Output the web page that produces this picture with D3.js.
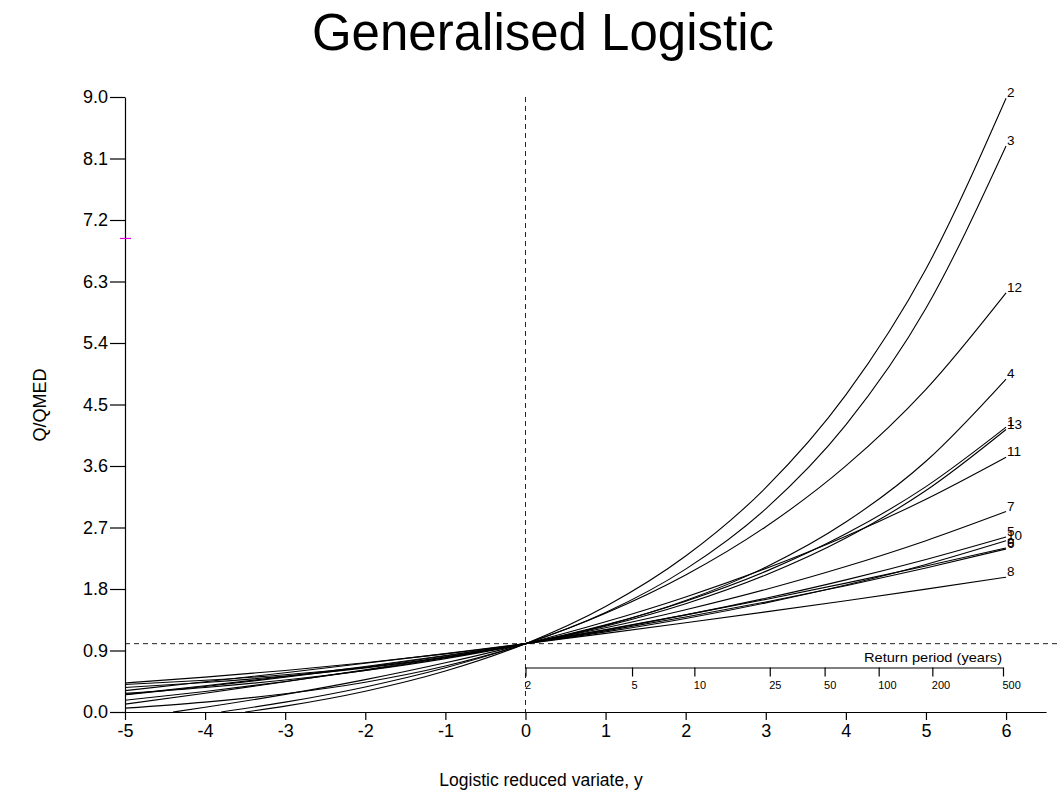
<!DOCTYPE html>
<html>
<head>
<meta charset="utf-8">
<script src="https://cdn.jsdelivr.net/npm/d3@7"></script>
<style>
  body { margin: 0; background: #fff; }
  svg { display: block; font-family: "Liberation Sans", Arial, sans-serif; }
  .curve { fill: none; stroke: #000; stroke-width: 1.1; }
  .guide { stroke: #222; stroke-width: 1; stroke-dasharray: 5,4; }
</style>
</head>
<body>
<svg id="chart" width="1060" height="812"></svg>
<script>
/* Generalised Logistic growth curves, Q/QMED against logistic reduced variate. */

// reduced variate positions where each curve was read
const xs = [-5, -4, -3, -2, -1, 0, 1, 2, 3, 4, 5, 6];

// Q/QMED at xs (null = below the axis)
const q2  = [null, null, 0.086, 0.304, 0.599, 1, 1.544, 2.282, 3.283, 4.640, 6.483, 8.982];
const q3  = [0.057, 0.145, 0.267, 0.436, 0.672, 1, 1.456, 2.091, 2.973, 4.201, 5.908, 8.283];
const q12 = [null, null, 0.144, 0.367, 0.647, 1, 1.445, 2.005, 2.711, 3.601, 4.722, 6.134];
const q4  = [0.404, 0.464, 0.545, 0.654, 0.801, 1, 1.268, 1.631, 2.120, 2.780, 3.670, 4.873];
const q13 = [0.358, 0.431, 0.525, 0.646, 0.801, 1, 1.256, 1.584, 2.005, 2.546, 3.241, 4.134];
const q1  = [0.272, 0.359, 0.469, 0.607, 0.781, 1, 1.275, 1.622, 2.058, 2.607, 3.298, 4.168];
const q11 = [null, 0.069, 0.258, 0.474, 0.720, 1, 1.320, 1.684, 2.100, 2.573, 3.113, 3.728];
const q7  = [0.173, 0.301, 0.446, 0.609, 0.793, 1, 1.234, 1.497, 1.794, 2.129, 2.507, 2.933];
const q5  = [0.252, 0.374, 0.508, 0.656, 0.819, 1, 1.200, 1.421, 1.665, 1.934, 2.233, 2.562];
const q10 = [0.425, 0.510, 0.608, 0.721, 0.851, 1, 1.172, 1.369, 1.597, 1.858, 2.159, 2.505];
const q9  = [0.115, 0.275, 0.443, 0.619, 0.805, 1, 1.205, 1.421, 1.647, 1.886, 2.136, 2.400];
const q6  = [0.258, 0.384, 0.520, 0.667, 0.827, 1, 1.187, 1.390, 1.610, 1.848, 2.107, 2.386];
const q8  = [0.313, 0.442, 0.575, 0.713, 0.854, 1, 1.150, 1.305, 1.465, 1.629, 1.798, 1.973];

const curveNames  = ["2", "3", "12", "4", "13", "1", "11", "7", "5", "10", "9", "6", "8"];
const curveValues = [q2, q3, q12, q4, q13, q1, q11, q7, q5, q10, q9, q6, q8];
// where a curve meets Q/QMED = 0 on the left (null if it stays above)
const zeroAt = [-3.5, null, -3.8, null, null, null, -4.4, null, null, null, null, null, null];

const xTicks = [-5, -4, -3, -2, -1, 0, 1, 2, 3, 4, 5, 6];
const yTicks = [0.0, 0.9, 1.8, 2.7, 3.6, 4.5, 5.4, 6.3, 7.2, 8.1, 9.0];
const returnPeriods = [2, 5, 10, 25, 50, 100, 200, 500];
const markerValue = 6.93;

const svg = d3.select("#chart");

const x = d3.scaleLinear().domain([-5, 6.5]).range([125, 1046.1]);
const y = d3.scaleLinear().domain([0, 9]).range([712, 97]);
// return period axis: position follows ln(T - 1)
const rp = d3.scaleLog().domain([1, 499]).range([x(0), 1003]);

svg.append("rect").attr("width", 1060).attr("height", 812).attr("fill", "#fff");

// title
svg.append("text")
  .attr("x", 543).attr("y", 50)
  .attr("text-anchor", "middle")
  .attr("font-size", 51)
  .text("Generalised Logistic");

// guide lines through QMED
svg.append("line").attr("class", "guide")
  .attr("x1", x(-5)).attr("x2", 1060)
  .attr("y1", y(1)).attr("y2", y(1));
svg.append("line").attr("class", "guide")
  .attr("x1", x(0)).attr("x2", x(0))
  .attr("y1", y(9)).attr("y2", y(0));

// axes
const gx = svg.append("g")
  .attr("transform", `translate(0,${y(0)})`)
  .call(d3.axisBottom(x).tickValues(xTicks).tickFormat(d => String(d)).tickSize(8).tickSizeOuter(0).tickPadding(4));
const gy = svg.append("g")
  .attr("transform", `translate(${x(-5)},0)`)
  .call(d3.axisLeft(y).tickValues(yTicks).tickFormat(d3.format(".1f")).tickSize(15).tickSizeOuter(0).tickPadding(2));
[gx, gy].forEach(g => {
  g.attr("font-family", null).attr("font-size", 18);
  g.selectAll("path, line").attr("stroke", "#000").attr("stroke-width", 1.2);
  g.selectAll("text").attr("fill", "#000");
});

// return period axis
const grp = svg.append("g")
  .attr("transform", "translate(0,667.5)")
  .call(d3.axisBottom(rp)
    .tickValues(returnPeriods.map(t => t - 1))
    .tickFormat(d => String(d + 1))
    .tickSize(9).tickSizeOuter(0).tickPadding(5));
grp.attr("font-family", null).attr("font-size", 11);
grp.selectAll("path, line").attr("stroke", "#000").attr("stroke-width", 1.2);
grp.selectAll("text").attr("fill", "#000").attr("text-anchor", "start").attr("x", -1);

svg.append("text")
  .attr("x", 1002).attr("y", 662)
  .attr("text-anchor", "end")
  .attr("font-size", 13)
  .attr("textLength", 138).attr("lengthAdjust", "spacingAndGlyphs")
  .text("Return period (years)");

// axis titles
svg.append("text")
  .attr("transform", "translate(46,405) rotate(-90)")
  .attr("text-anchor", "middle")
  .attr("font-size", 18)
  .text("Q/QMED");
svg.append("text")
  .attr("x", 541).attr("y", 786)
  .attr("text-anchor", "middle")
  .attr("font-size", 17.5)
  .text("Logistic reduced variate, y");

// small magenta marker on the Q/QMED axis
svg.append("line")
  .attr("x1", x(-5) - 5).attr("x2", x(-5) + 6)
  .attr("y1", y(markerValue)).attr("y2", y(markerValue))
  .attr("stroke", "#e000e0").attr("stroke-width", 1.2);

// curves
const line = d3.line()
  .x(d => x(d[0]))
  .y(d => y(d[1]))
  .curve(d3.curveMonotoneX);

const series = curveNames.map((name, i) => {
  const pts = [];
  if (zeroAt[i] !== null) pts.push([zeroAt[i], 0]);
  xs.forEach((xv, j) => {
    const v = curveValues[i][j];
    if (v !== null) pts.push([xv, v]);
  });
  return { name, pts };
});

svg.append("g")
  .selectAll("path")
  .data(series)
  .join("path")
  .attr("class", "curve")
  .attr("d", d => line(d.pts));

svg.append("g")
  .attr("font-size", 13.5)
  .selectAll("text")
  .data(series)
  .join("text")
  .attr("x", d => x(d.pts[d.pts.length - 1][0]) + 1)
  .attr("y", d => y(d.pts[d.pts.length - 1][1]) - 1)
  .text(d => d.name);
</script>
</body>
</html>
